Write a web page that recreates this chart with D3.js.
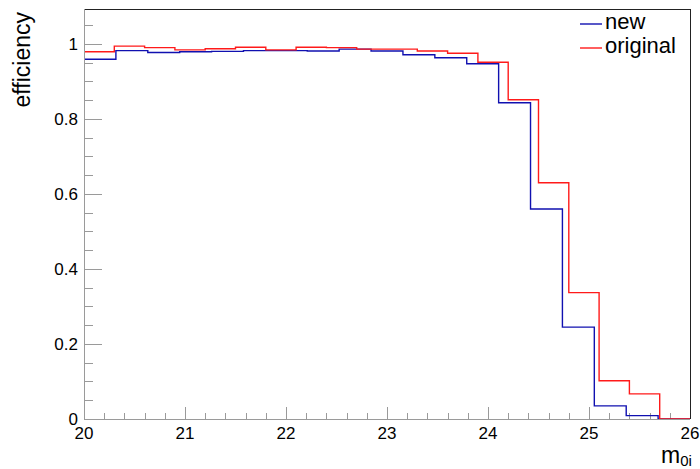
<!DOCTYPE html>
<html><head><meta charset="utf-8">
<script src="https://cdn.jsdelivr.net/npm/d3@7"></script>
<style>body{margin:0;background:#fff}svg{display:block}text{font-family:"Liberation Sans",Arial,sans-serif;fill:#000}</style>
</head><body><svg id="c" width="700" height="469"></svg>
<script>
// ---- data ----
const xRange = [20, 26];
const yRange = [0, 1.093];
const newValues = [0.959, 0.982, 0.977, 0.979, 0.980, 0.982, 0.982, 0.981, 0.986, 0.981, 0.971, 0.963, 0.947, 0.843, 0.560, 0.245, 0.035, 0.009, 0];
const originalValues = [0.979, 0.994, 0.990, 0.984, 0.987, 0.991, 0.984, 0.991, 0.990, 0.986, 0.986, 0.981, 0.975, 0.951, 0.851, 0.630, 0.337, 0.102, 0.067, 0];
const xTickLabels = ["20", "21", "22", "23", "24", "25", "26"];
const yTickLabels = ["0", "0.2", "0.4", "0.6", "0.8", "1"];
const seriesNames = ["new", "original"];
const seriesColors = ["#1010b0", "#ff1a1a"];

const svg = d3.select("#c");
const L = 84, R = 690, T = 9, B = 419;
const x = d3.scaleLinear().domain(xRange).range([L, R]);
const y = d3.scaleLinear().domain(yRange).range([B, T]);

// x axis ticks and labels
const gx = svg.append("g").attr("transform", `translate(0,${B})`);
const xTicks = d3.range(0, 31).map(i => 20 + i * 0.2);
gx.selectAll("line.t").data(xTicks).join("line")
  .attr("x1", d => Math.round(x(d)) + 0.5).attr("x2", d => Math.round(x(d)) + 0.5)
  .attr("y1", 0).attr("y2", (d, i) => i % 5 === 0 ? -12 : -6)
  .attr("stroke", "#9a9a9a").attr("stroke-width", 1);
gx.selectAll("text").data(xTickLabels).join("text")
  .attr("x", d => x(+d)).attr("y", 20).attr("text-anchor", "middle")
  .attr("font-size", 17).text(d => d);

// y axis ticks and labels
const yTicks = d3.range(0, 22).map(i => i * 0.05);
const gy = svg.append("g");
gy.selectAll("line").data(yTicks).join("line")
  .attr("x1", L).attr("x2", (d, i) => L + (i % 4 === 0 ? 18 : 9))
  .attr("y1", d => Math.round(y(d)) + 0.5).attr("y2", d => Math.round(y(d)) + 0.5)
  .attr("stroke", "#9a9a9a").attr("stroke-width", 1);
gy.selectAll("text").data(yTickLabels).join("text")
  .attr("x", 78).attr("y", d => y(+d)).attr("dy", "0.35em").attr("text-anchor", "end")
  .attr("font-size", 17).text(d => d);

// histograms
function histPath(vals) {
  const n = vals.length, w = (xRange[1] - xRange[0]) / n;
  const p = d3.path();
  vals.forEach((v, i) => {
    const x0 = x(xRange[0] + i * w), x1 = x(xRange[0] + (i + 1) * w), yy = y(v);
    if (i === 0) p.moveTo(x0, yy); else p.lineTo(x0, yy);
    p.lineTo(x1, yy);
  });
  return p.toString();
}
[newValues, originalValues].forEach((vals, k) => {
  svg.append("path").attr("d", histPath(vals)).attr("fill", "none")
    .attr("stroke", seriesColors[k]).attr("stroke-width", 1.4);
});

// frame
svg.append("line").attr("x1", L).attr("x2", R).attr("y1", T + 0.5).attr("y2", T + 0.5).attr("stroke", "#222");
svg.append("line").attr("x1", R + 0.5).attr("x2", R + 0.5).attr("y1", T).attr("y2", B).attr("stroke", "#222");
svg.append("line").attr("x1", L + 0.5).attr("x2", L + 0.5).attr("y1", T).attr("y2", B + 0.5).attr("stroke", "#9a9a9a");
svg.append("line").attr("x1", L).attr("x2", R).attr("y1", B + 0.5).attr("y2", B + 0.5).attr("stroke", "#9a9a9a");

// titles
svg.append("text").attr("transform", "translate(30,12) rotate(-90)").attr("text-anchor", "end")
  .attr("font-size", 23).text("efficiency");
const xt = svg.append("text").attr("x", 661).attr("y", 463).attr("font-size", 23);
xt.append("tspan").text("m");
xt.append("tspan").attr("font-size", 15).attr("dy", 3).text("0i");

// legend
const lg = svg.append("g");
seriesNames.forEach((name, k) => {
  const yy = 24 + k * 24;
  lg.append("line").attr("x1", 580).attr("x2", 602).attr("y1", yy).attr("y2", yy)
    .attr("stroke", seriesColors[k]).attr("stroke-width", 1.4);
  lg.append("text").attr("x", 605).attr("y", yy + 5).attr("font-size", 22).text(name);
});
</script></body></html>
